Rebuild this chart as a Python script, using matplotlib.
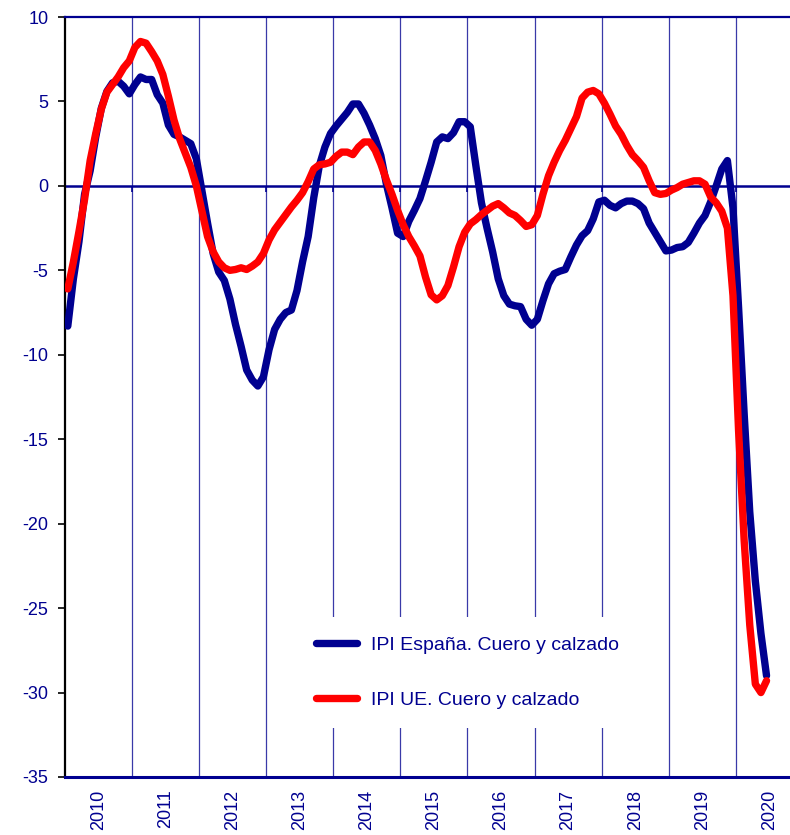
import numpy as np
import matplotlib
matplotlib.use("Agg")
import matplotlib.pyplot as plt

plt.rcParams['font.family'] = ['Liberation Sans', 'DejaVu Sans']

# Serie mensual ene-2010 .. jun-2020 (tasa de variación, %)
ipi_espana = [
    -8.3, -5.5, -3.3, -0.5, 0.9, 2.9, 4.6, 5.6, 6.1, 6.2, 5.9, 5.45,
    6.0, 6.45, 6.3, 6.3, 5.4, 4.9, 3.6, 3.05, 2.9, 2.7, 2.5, 1.6,
    -0.3, -2.2, -4.0, -5.1, -5.6, -6.7, -8.2, -9.5, -10.9, -11.5, -11.85, -11.3,
    -9.7, -8.5, -7.9, -7.5, -7.35, -6.2, -4.5, -3.0, -0.7, 1.2, 2.3, 3.1,
    3.55, 3.95, 4.35, 4.85, 4.85, 4.3, 3.6, 2.8, 1.8, 0.1, -1.3, -2.8,
    -3.0, -2.1, -1.45, -0.75, 0.3, 1.4, 2.6, 2.9, 2.8, 3.15, 3.8, 3.8,
    3.5, 1.2, -1.0, -2.5, -3.9, -5.5, -6.5, -7.0, -7.1, -7.15, -7.9, -8.25,
    -7.9, -6.8, -5.8, -5.2, -5.05, -4.95, -4.2, -3.5, -2.95, -2.65, -1.95, -0.95,
    -0.85, -1.15, -1.3, -1.05, -0.9, -0.9, -1.05, -1.35, -2.2, -2.75, -3.3, -3.85,
    -3.8, -3.65, -3.6, -3.35, -2.8, -2.2, -1.75, -0.95, 0.0, 1.0, 1.5, -1.3,
    -7.2, -13.5, -19.3, -23.4, -26.5, -29.0,
]
ipi_ue = [
    -6.1, -4.5, -2.7, -0.8, 1.5, 3.1, 4.55, 5.55, 6.0, 6.45, 7.0, 7.4,
    8.2, 8.55, 8.45, 7.95, 7.4, 6.6, 5.3, 3.9, 2.8, 1.95, 1.1, 0.0,
    -1.5, -3.0, -3.9, -4.5, -4.85, -5.0, -4.95, -4.85, -4.95, -4.75, -4.5, -4.0,
    -3.2, -2.6, -2.15, -1.7, -1.25, -0.85, -0.4, 0.25, 1.0, 1.25, 1.3, 1.4,
    1.75, 2.0, 2.0, 1.85, 2.3, 2.6, 2.6, 2.1, 1.3, 0.35, -0.5, -1.45,
    -2.3, -3.0, -3.55, -4.15, -5.4, -6.45, -6.75, -6.5, -5.9, -4.8, -3.6, -2.75,
    -2.25, -2.0, -1.7, -1.45, -1.2, -1.05, -1.3, -1.6, -1.75, -2.05, -2.4, -2.3,
    -1.75, -0.5, 0.6, 1.4, 2.1, 2.7, 3.4, 4.1, 5.2, 5.55, 5.65, 5.45,
    4.9, 4.25, 3.55, 3.05, 2.4, 1.85, 1.5, 1.1, 0.3, -0.4, -0.5, -0.45,
    -0.25, -0.1, 0.1, 0.2, 0.3, 0.3, 0.1, -0.65, -1.0, -1.5, -2.5, -6.5,
    -14.5, -21.0, -26.0, -29.5, -30.0, -29.3,
]
years = [str(y) for y in range(2010, 2021)]
y_ticks = [10, 5, 0, -5, -10, -15, -20, -25, -30, -35]

NAVY = '#000090'
RED = '#FF0000'

meses = np.arange(len(ipi_espana)) + 0.5

fig = plt.figure(figsize=(7.9, 8.35), dpi=100)
ax = fig.add_axes([65 / 790, 1 - 777 / 835, 1 - 65 / 790, (777 - 17) / 835])

# rejilla vertical en los cambios de año
limites = np.arange(0, 12 * len(years) + 1, 12)
for b in limites[1:]:
    ax.axvline(b, color='#3a3aa8', lw=0.9, zorder=1)
ax.axhline(0, color=NAVY, lw=1.8, zorder=2)
ax.plot(limites[1:], np.zeros(len(limites) - 1), linestyle='none', marker=3,
        markersize=4.5, markeredgewidth=1.2, color=NAVY, zorder=2)

ax.plot(meses, ipi_espana, color=NAVY, lw=5.3, solid_capstyle='round',
        solid_joinstyle='round', label='IPI España. Cuero y calzado', zorder=4)
ax.plot(meses, ipi_ue, color=RED, lw=5.3, solid_capstyle='round',
        solid_joinstyle='round', label='IPI UE. Cuero y calzado', zorder=5)

ax.set_xlim(0, 129.7)
ax.set_ylim(-35, 10)
ax.set_yticks(y_ticks)
ax.set_yticklabels([str(v) for v in y_ticks])
ax.tick_params(axis='y', direction='out', length=5, width=1.2, color='black',
               labelcolor=NAVY, labelsize=13, pad=7)
ax.set_xticks(np.arange(len(years)) * 12 + 6)
ax.set_xticklabels(years, rotation=90)
ax.tick_params(axis='x', length=0, labelcolor=NAVY, labelsize=13, pad=9)

ax.spines['right'].set_visible(False)
ax.spines['left'].set_color('black')
ax.spines['left'].set_linewidth(1.6)
ax.spines['top'].set_color(NAVY)
ax.spines['top'].set_linewidth(1.6)
ax.spines['bottom'].set_color(NAVY)
ax.spines['bottom'].set_linewidth(2.2)

leg = ax.legend(loc='upper left', bbox_to_anchor=(297 / 790, 1 - 617 / 835),
                bbox_transform=fig.transFigure, borderaxespad=0,
                fontsize=14, frameon=True, fancybox=False, framealpha=1,
                edgecolor='none', facecolor='white', handlelength=2.1,
                handletextpad=0.7, labelspacing=1.9, borderpad=1.0)
leg.set_zorder(3)
for t in leg.get_texts():
    t.set_color(NAVY)

fig.savefig('out.png', dpi=100)
